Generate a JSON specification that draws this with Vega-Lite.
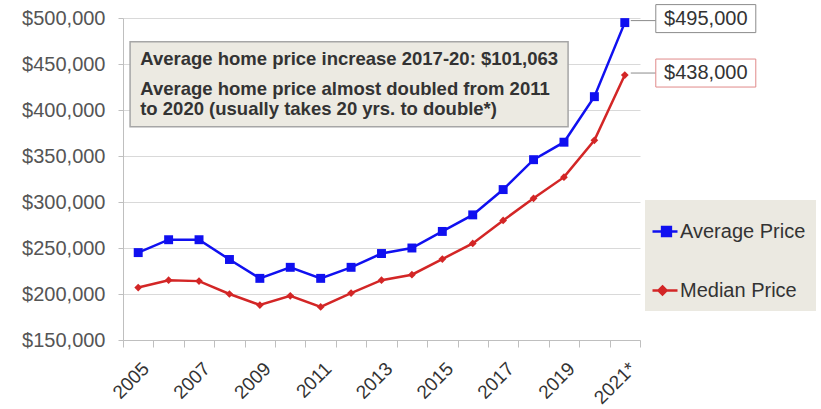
{
  "$schema": "https://vega.github.io/schema/vega-lite/v6.json",
  "width": 517,
  "height": 322,
  "autosize": "none",
  "padding": {"left": 123, "top": 18, "right": 181, "bottom": 69},
  "background": "white",
  "config": {
    "view": {"stroke": null},
    "font": "Liberation Sans",
    "axisX": {"grid": false, "domainColor": "#bfbfbf", "tickColor": "#bfbfbf", "tickSize": 7, "labelFontSize": 19, "labelColor": "#333333", "labelAngle": -45, "labelPadding": 12, "labelOffset": 1, "tickBand": "extent", "title": null},
    "axisY": {"gridColor": "#d9d9d9", "domainColor": "#bfbfbf", "tickColor": "#bfbfbf", "tickSize": 5, "labelFontSize": 20, "labelColor": "#555555", "labelPadding": 13, "title": null}
  },
  "data": {
    "values": [
      {"year": "2005", "series": "Average Price", "price": 245000},
      {"year": "2006", "series": "Average Price", "price": 259000},
      {"year": "2007", "series": "Average Price", "price": 259000},
      {"year": "2008", "series": "Average Price", "price": 237500},
      {"year": "2009", "series": "Average Price", "price": 217000},
      {"year": "2010", "series": "Average Price", "price": 229000},
      {"year": "2011", "series": "Average Price", "price": 217000},
      {"year": "2012", "series": "Average Price", "price": 229000},
      {"year": "2013", "series": "Average Price", "price": 244000},
      {"year": "2014", "series": "Average Price", "price": 250000},
      {"year": "2015", "series": "Average Price", "price": 268000},
      {"year": "2016", "series": "Average Price", "price": 286000},
      {"year": "2017", "series": "Average Price", "price": 313500},
      {"year": "2018", "series": "Average Price", "price": 346000},
      {"year": "2019", "series": "Average Price", "price": 365000},
      {"year": "2020", "series": "Average Price", "price": 414500},
      {"year": "2021*", "series": "Average Price", "price": 495000},
      {"year": "2005", "series": "Median Price", "price": 207000},
      {"year": "2006", "series": "Median Price", "price": 215000},
      {"year": "2007", "series": "Median Price", "price": 214000},
      {"year": "2008", "series": "Median Price", "price": 200000},
      {"year": "2009", "series": "Median Price", "price": 188000},
      {"year": "2010", "series": "Median Price", "price": 198000},
      {"year": "2011", "series": "Median Price", "price": 186000},
      {"year": "2012", "series": "Median Price", "price": 201000},
      {"year": "2013", "series": "Median Price", "price": 215000},
      {"year": "2014", "series": "Median Price", "price": 221000},
      {"year": "2015", "series": "Median Price", "price": 238000},
      {"year": "2016", "series": "Median Price", "price": 255000},
      {"year": "2017", "series": "Median Price", "price": 280000},
      {"year": "2018", "series": "Median Price", "price": 304000},
      {"year": "2019", "series": "Median Price", "price": 327000},
      {"year": "2020", "series": "Median Price", "price": 367000},
      {"year": "2021*", "series": "Median Price", "price": 438000}
    ]
  },
  "layer": [
    {
      "mark": {"type": "line", "strokeWidth": 2.5},
      "encoding": {
        "x": {"field": "year", "type": "ordinal", "title": null,
              "scale": {"type": "band", "paddingInner": 0, "paddingOuter": 0, "domain": ["2005","2006","2007","2008","2009","2010","2011","2012","2013","2014","2015","2016","2017","2018","2019","2020","2021*"]},
              "axis": {"labelExpr": "indexof(['2005','2007','2009','2011','2013','2015','2017','2019','2021*'], datum.value) >= 0 ? datum.value : ''"}},
        "y": {"field": "price", "type": "quantitative", "title": null,
              "scale": {"domain": [150000, 500000], "nice": false, "zero": false},
              "axis": {"values": [150000, 200000, 250000, 300000, 350000, 400000, 450000, 500000], "format": "$,.0f"}},
        "color": {"field": "series", "type": "nominal",
                  "scale": {"domain": ["Average Price", "Median Price"], "range": ["#1010f0", "#d32626"]},
                  "legend": {"title": null, "orient": "none", "legendX": 522, "legendY": 182, "fillColor": "#EBE9E1", "padding": 10,
                             "symbolSize": 1600, "labelFontSize": 20, "labelColor": "#333333", "labelOffset": -18, "rowPadding": 27,
                             "symbolStrokeWidth": 2.5,
                             "encode": {"symbols": {"update": {
                               "shape": {"signal": "datum.value === 'Average Price' ? 'M-1.2,0H0.05M-0.72,-0.22H-0.28V0.22H-0.72Z' : 'M-1.2,0H0.05M-0.7,-0.2L-0.5,0L-0.7,0.2L-0.9,0Z'"},
                               "stroke": {"signal": "scale('color', datum.value)"},
                               "fill": {"signal": "scale('color', datum.value)"},
                               "opacity": {"value": 1}
                             }}}}}
      }
    },
    {
      "transform": [{"filter": "datum.series === 'Average Price'"}],
      "mark": {"type": "point", "shape": "square", "filled": true, "size": 80, "color": "#1010f0", "opacity": 1},
      "encoding": {
        "x": {"field": "year", "type": "ordinal", "title": null},
        "y": {"field": "price", "type": "quantitative", "title": null}
      }
    },
    {
      "transform": [{"filter": "datum.series === 'Median Price'"}],
      "mark": {"type": "point", "shape": "diamond", "filled": true, "size": 60, "color": "#d32626", "opacity": 1},
      "encoding": {
        "x": {"field": "year", "type": "ordinal", "title": null},
        "y": {"field": "price", "type": "quantitative", "title": null}
      }
    },
    {
      "transform": [{"filter": "datum.year === '2021*'"}],
      "mark": {"type": "rule", "color": "#8c8c8c", "strokeWidth": 1, "xOffset": 6, "x2Offset": 31, "yOffset": -2},
      "encoding": {
        "x": {"field": "year", "type": "ordinal", "title": null},
        "x2": {"field": "year"},
        "y": {"field": "price", "type": "quantitative", "title": null}
      }
    },
    {
      "transform": [{"filter": "datum.year === '2021*' && datum.series === 'Average Price'"}],
      "mark": {"type": "point", "shape": "M-1,-0.28H1V0.28H-1Z", "size": 10000, "filled": true, "fill": "white", "stroke": "#8c8c8c", "strokeWidth": 1, "opacity": 1, "xOffset": 81, "yOffset": -4},
      "encoding": {
        "x": {"field": "year", "type": "ordinal", "title": null},
        "y": {"field": "price", "type": "quantitative", "title": null}
      }
    },
    {
      "transform": [{"filter": "datum.year === '2021*' && datum.series === 'Median Price'"}],
      "mark": {"type": "point", "shape": "M-1,-0.28H1V0.28H-1Z", "size": 10000, "filled": true, "fill": "white", "stroke": "#e08a8a", "strokeWidth": 1, "opacity": 1, "xOffset": 81, "yOffset": -2},
      "encoding": {
        "x": {"field": "year", "type": "ordinal", "title": null},
        "y": {"field": "price", "type": "quantitative", "title": null}
      }
    },
    {
      "transform": [{"filter": "datum.year === '2021*' && datum.series === 'Average Price'"}],
      "mark": {"type": "text", "fontSize": 20, "color": "#333333", "dx": 81, "dy": -4, "align": "center", "baseline": "middle"},
      "encoding": {
        "x": {"field": "year", "type": "ordinal", "title": null},
        "y": {"field": "price", "type": "quantitative", "title": null},
        "text": {"field": "price", "format": "$,.0f"}
      }
    },
    {
      "transform": [{"filter": "datum.year === '2021*' && datum.series === 'Median Price'"}],
      "mark": {"type": "text", "fontSize": 20, "color": "#333333", "dx": 81, "dy": -2, "align": "center", "baseline": "middle"},
      "encoding": {
        "x": {"field": "year", "type": "ordinal", "title": null},
        "y": {"field": "price", "type": "quantitative", "title": null},
        "text": {"field": "price", "format": "$,.0f"}
      }
    },
    {
      "data": {"values": [{}]},
      "mark": {"type": "point", "shape": "M-1,-0.194H1V0.194H-1Z", "size": 191844, "filled": true, "fill": "#ECEAE2", "stroke": "#a6a6a6", "strokeWidth": 1.5, "opacity": 1, "xOffset": -2},
      "encoding": {
        "x": {"datum": "2012", "type": "ordinal", "title": null},
        "y": {"datum": 428000, "type": "quantitative", "title": null}
      }
    },
    {
      "data": {"values": [{}]},
      "mark": {"type": "text", "text": "Average home price increase 2017-20: $101,063", "fontSize": 18.5, "fontWeight": "bold", "color": "#333333", "align": "left", "baseline": "middle", "dx": 2},
      "encoding": {
        "x": {"datum": "2005", "type": "ordinal", "title": null},
        "y": {"datum": 455500, "type": "quantitative", "title": null}
      }
    },
    {
      "data": {"values": [{}]},
      "mark": {"type": "text", "text": "Average home price almost doubled from 2011", "fontSize": 18.5, "fontWeight": "bold", "color": "#333333", "align": "left", "baseline": "middle", "dx": 2},
      "encoding": {
        "x": {"datum": "2005", "type": "ordinal", "title": null},
        "y": {"datum": 423000, "type": "quantitative", "title": null}
      }
    },
    {
      "data": {"values": [{}]},
      "mark": {"type": "text", "text": "to 2020 (usually takes 20 yrs. to double*)", "fontSize": 18.5, "fontWeight": "bold", "color": "#333333", "align": "left", "baseline": "middle", "dx": 2},
      "encoding": {
        "x": {"datum": "2005", "type": "ordinal", "title": null},
        "y": {"datum": 401500, "type": "quantitative", "title": null}
      }
    }
  ]
}
